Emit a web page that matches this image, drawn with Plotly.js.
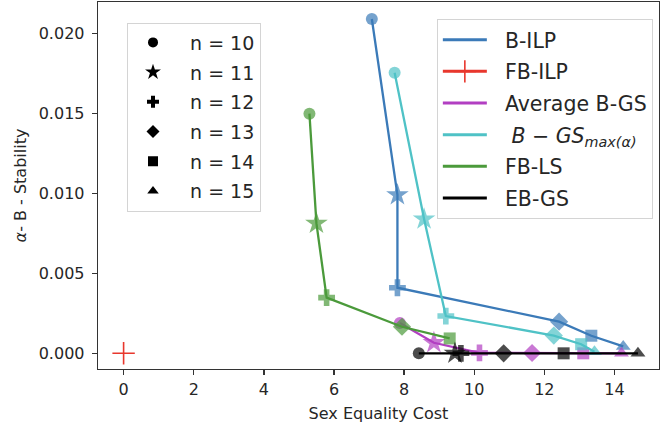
<!DOCTYPE html>
<html>
<head>
<meta charset="utf-8">
<script src="https://cdn.plot.ly/plotly-3.0.1.min.js"></script>
<style>html,body{margin:0;padding:0;background:#fff;}#chart{width:660px;height:427px;}</style>
</head>
<body>
<div id="chart"></div>
<script>
// n values and their markers
const nLabels = ["n = 10", "n = 11", "n = 12", "n = 13", "n = 14", "n = 15"];
const nSymbols = ["circle", "star", "cross", "diamond", "square", "triangle-up"];

// Series (x = Sex Equality Cost, y = alpha-B-Stability), one point per n
const bilpX = [7.08, 7.81, 7.81, 12.42, 13.34, 14.25];
const bilpY = [0.0209, 0.0099, 0.0041, 0.00198, 0.0011, 0.00043];

const fbilpX = [0];
const fbilpY = [0];

const avgX = [7.88, 8.85, 10.15, 11.65, 13.11, 14.2];
const avgY = [0.0019, 0.00066, 0.00003, 0.00002, 0.0, 0.0];

const bgsMaxX = [7.73, 8.57, 9.19, 12.27, 13.05, 13.43];
const bgsMaxY = [0.01754, 0.00839, 0.00233, 0.00111, 0.00057, 0.0001];

const fblsX = [5.30, 5.50, 5.79, 7.94, 9.30];
const fblsY = [0.01498, 0.00812, 0.00348, 0.00166, 0.00093];

const ebgsX = [8.42, 9.45, 9.62, 10.84, 12.55, 14.67];
const ebgsY = [0, 0, 0, 0, 0, 0];

const seriesNames = ["B-ILP", "FB-ILP", "Average B-GS", "&nbsp;<i>B − GS</i><sub><i>max(α)</i></sub>", "FB-LS", "EB-GS"];

const xTicks = [0, 2, 4, 6, 8, 10, 12, 14];
const yTicks = [0, 0.005, 0.010, 0.015, 0.020];

const C = {
  blue: "#3b7ab8",
  red: "#e8372d",
  mag: "#b23fc2",
  cyan: "#4fc2c6",
  green: "#4b9a3b",
  black: "#000000"
};
const markerSizes = {"circle": 12, "star": 17, "cross": 14, "diamond": 14, "square": 12, "triangle-up": 13};
const sizesFor = (n) => nSymbols.slice(0, n).map(s => markerSizes[s]);
const pad = "&nbsp;&nbsp;";

const traces = [];
function addSeries(x, y, color, name, idx) {
  traces.push({
    x: x, y: y, type: "scatter", mode: "lines+markers",
    line: {color: color, width: 2.3},
    marker: {color: color, symbol: nSymbols.slice(0, x.length), size: sizesFor(x.length), line: {width: 0}},
    showlegend: false, hoverinfo: "skip"
  });
  traces.push({
    x: [null], y: [null], type: "scatter", mode: "lines",
    line: {color: color, width: 3},
    name: pad + name, legend: "legend2", legendgroup: "g" + idx, showlegend: true
  });
}
addSeries(bilpX, bilpY, C.blue, seriesNames[0], 0);
// FB-ILP: single red thin plus
traces.push({
  x: fbilpX, y: fbilpY, type: "scatter", mode: "markers",
  marker: {color: C.red, symbol: "cross-thin-open", size: 16, line: {color: C.red, width: 1.6}},
  showlegend: false, hoverinfo: "skip"
});
traces.push({
  x: [null], y: [null], type: "scatter", mode: "lines+markers",
  line: {color: C.red, width: 3},
  marker: {color: C.red, symbol: "cross-thin-open", size: 16, line: {color: C.red, width: 1.6}},
  name: pad + seriesNames[1], legend: "legend2", legendgroup: "g1", showlegend: true
});
addSeries(avgX, avgY, C.mag, seriesNames[2], 2);
addSeries(bgsMaxX, bgsMaxY, C.cyan, seriesNames[3], 3);
addSeries(fblsX, fblsY, C.green, seriesNames[4], 4);
addSeries(ebgsX, ebgsY, C.black, seriesNames[5], 5);

// marker legend (n values)
nLabels.forEach((lab, i) => {
  traces.push({
    x: [null], y: [null], type: "scatter", mode: "markers",
    marker: {color: "#000", symbol: nSymbols[i], size: nSymbols[i] === "star" ? 12 : 10},
    name: pad + lab, legend: "legend", legendgroup: "n" + i, showlegend: true
  });
});

const tickFont = {family: "DejaVu Sans", size: 16, color: "#262626"};
const layout = {
  width: 660, height: 427,
  margin: {l: 98, r: 1, t: 2, b: 58},
  paper_bgcolor: "#fff", plot_bgcolor: "#fff",
  font: {family: "DejaVu Sans", color: "#262626"},
  xaxis: {
    range: [-0.73, 15.27], tickvals: xTicks, ticktext: xTicks.map(String),
    showgrid: false, zeroline: false, showline: true, mirror: true,
    linecolor: "#333", linewidth: 1.3, ticks: "outside", ticklen: 5, tickcolor: "#333", tickwidth: 1.3,
    tickfont: tickFont,
    title: {text: "Sex Equality Cost", font: {family: "DejaVu Sans", size: 16, color: "#262626"}, standoff: 10}
  },
  yaxis: {
    range: [-0.00098, 0.02196], tickvals: yTicks, ticktext: yTicks.map(v => v.toFixed(3)),
    showgrid: false, zeroline: false, showline: true, mirror: true,
    linecolor: "#333", linewidth: 1.3, ticks: "outside", ticklen: 5, tickcolor: "#333", tickwidth: 1.3,
    tickfont: tickFont, ticklabelstandoff: 4,
    title: {text: "<i>α</i>- B - Stability", font: {family: "DejaVu Sans", size: 16, color: "#262626"}, standoff: 8}
  },
  legend: {
    x: 0.0517, y: 0.944, xanchor: "left", yanchor: "top",
    bgcolor: "rgba(255,255,255,0.85)", bordercolor: "#d4d4d4", borderwidth: 1,
    font: {family: "DejaVu Sans", size: 19, color: "#262626"},
    tracegroupgap: 2, itemwidth: 40
  },
  legend2: {
    x: 0.604, y: 0.954, xanchor: "left", yanchor: "top",
    bgcolor: "rgba(255,255,255,0.85)", bordercolor: "#d4d4d4", borderwidth: 1,
    font: {family: "DejaVu Sans", size: 20.5, color: "#262626"},
    tracegroupgap: 2, itemwidth: 44
  },
  showlegend: true
};

Plotly.newPlot("chart", traces, layout, {displayModeBar: false, staticPlot: true});
</script>
</body>
</html>
